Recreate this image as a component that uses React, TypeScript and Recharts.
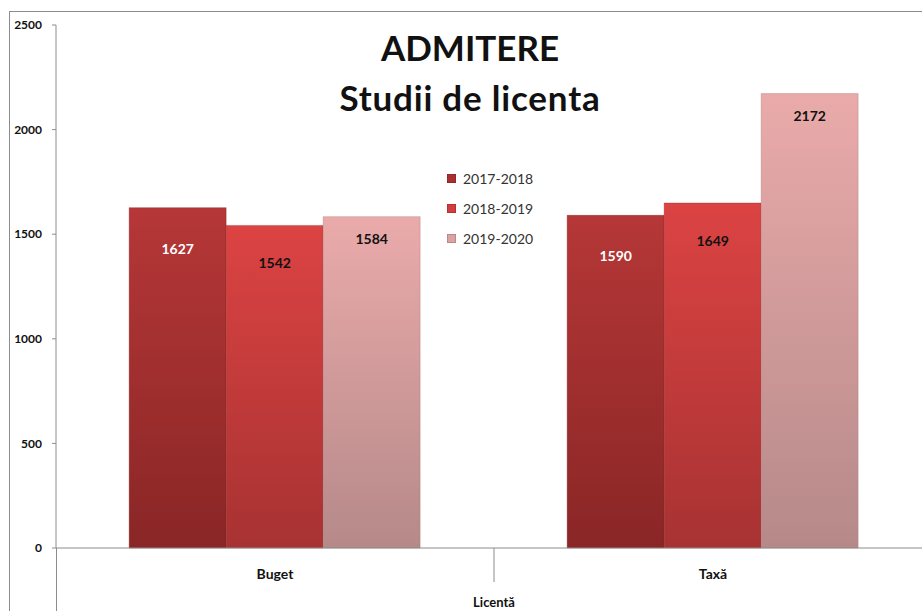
import { BarChart, Bar, XAxis, YAxis, Legend, LabelList } from "recharts";

const categories = ["Buget", "Taxă"];
const seriesNames = ["2017-2018", "2018-2019", "2019-2020"];
const values2017 = [1627, 1590];
const values2018 = [1542, 1649];
const values2019 = [1584, 2172];
const yTicks = [0, 500, 1000, 1500, 2000, 2500];
const legendColors = ["#a83030", "#d23d3d", "#dba2a2"];

const data = categories.map((name, i) => ({
  name,
  s1: values2017[i],
  s2: values2018[i],
  s3: values2019[i],
}));

const CHART_W = 940;
const CHART_H = 611;
const Y_AXIS_W = 56;
const MARGIN_R = 8;
const BAND = (CHART_W - Y_AXIS_W - MARGIN_R) / categories.length;
const FONT = "Lato, 'Open Sans', sans-serif";
const AXIS = "#8c8c8c";

function CategoryTick(props: any) {
  const { x, y, payload, index } = props;
  return (
    <g>
      <text x={x} y={y} dy={23} textAnchor="middle" fontFamily={FONT} fontWeight={700} fontSize={14} fill="#111">
        {payload.value}
      </text>
      {index === 0 && <line x1={x + BAND / 2} x2={x + BAND / 2} y1={y - 8} y2={y + 26} stroke={AXIS} strokeWidth={1} />}
    </g>
  );
}

function LegendBox() {
  return (
    <div style={{ fontFamily: FONT, fontSize: 14, color: "#333" }}>
      {seriesNames.map((n, i) => (
        <div key={n} style={{ display: "flex", alignItems: "center", height: 30 }}>
          <span style={{ width: 9, height: 9, marginRight: 7, background: legendColors[i], boxShadow: "inset 0 0 0 1px rgba(0,0,0,0.15)" }} />
          {n}
        </div>
      ))}
    </div>
  );
}

export default function App() {
  return (
    <div style={{ position: "fixed", left: 0, top: 0, width: 922, height: 611, overflow: "hidden", background: "#fff" }}>
      <div style={{ position: "absolute", left: 9, top: 11, right: 0, bottom: 0, borderLeft: `1px solid ${AXIS}`, borderTop: `1px solid ${AXIS}` }} />
      <div style={{ position: "absolute", left: 56, top: 548, width: 1, height: 63, background: AXIS }} />
      <BarChart width={CHART_W} height={CHART_H} data={data} margin={{ top: 25, right: MARGIN_R, left: 0, bottom: 0 }} barCategoryGap="16.7%" barGap={0}>
        <defs>
          <linearGradient id="g1" x1="0" y1="0" x2="0" y2="1">
            <stop offset="0%" stopColor="#b63737" />
            <stop offset="100%" stopColor="#8a2626" />
          </linearGradient>
          <linearGradient id="g2" x1="0" y1="0" x2="0" y2="1">
            <stop offset="0%" stopColor="#dc4343" />
            <stop offset="100%" stopColor="#a83232" />
          </linearGradient>
          <linearGradient id="g3" x1="0" y1="0" x2="0" y2="1">
            <stop offset="0%" stopColor="#eaaaaa" />
            <stop offset="100%" stopColor="#b68989" />
          </linearGradient>
        </defs>
        <YAxis
          width={Y_AXIS_W}
          domain={[0, 2500]}
          ticks={yTicks}
          interval={0}
          stroke={AXIS}
          tickSize={4}
          tickMargin={10}
          tick={{ fontFamily: FONT, fontWeight: 700, fontSize: 12, fill: "#111" }}
        />
        <XAxis
          dataKey="name"
          height={63}
          stroke={AXIS}
          tickLine={false}
          tick={<CategoryTick />}
          label={{ value: "Licentă", position: "insideBottom", offset: 4, style: { fontFamily: FONT, fontWeight: 700, fontSize: 13, fill: "#111" } }}
        />
        <Legend
          layout="vertical"
          verticalAlign="middle"
          align="center"
          wrapperStyle={{ left: 447, top: 163, width: 120 }}
          content={<LegendBox />}
        />
        <Bar dataKey="s1" name={seriesNames[0]} fill="url(#g1)" stroke="#7a2020" strokeOpacity={0.35} isAnimationActive={false}>
          <LabelList dataKey="s1" position="insideTop" offset={36} fill="#fff" fontFamily={FONT} fontWeight={700} fontSize={14} />
        </Bar>
        <Bar dataKey="s2" name={seriesNames[1]} fill="url(#g2)" stroke="#8a2a2a" strokeOpacity={0.35} isAnimationActive={false}>
          <LabelList dataKey="s2" position="insideTop" offset={33} fill="#111" fontFamily={FONT} fontWeight={700} fontSize={14} />
        </Bar>
        <Bar dataKey="s3" name={seriesNames[2]} fill="url(#g3)" stroke="#a07575" strokeOpacity={0.35} isAnimationActive={false}>
          <LabelList dataKey="s3" position="insideTop" offset={17} fill="#111" fontFamily={FONT} fontWeight={700} fontSize={14} />
        </Bar>
      </BarChart>
      <div style={{ position: "absolute", left: 320, width: 300, top: 22, textAlign: "center", fontFamily: FONT, fontWeight: 700, fontSize: 35, lineHeight: "50px", color: "#111" }}>
        ADMITERE
        <br />
        <span style={{ letterSpacing: 0.8 }}>Studii de licenta</span>
      </div>
    </div>
  );
}
